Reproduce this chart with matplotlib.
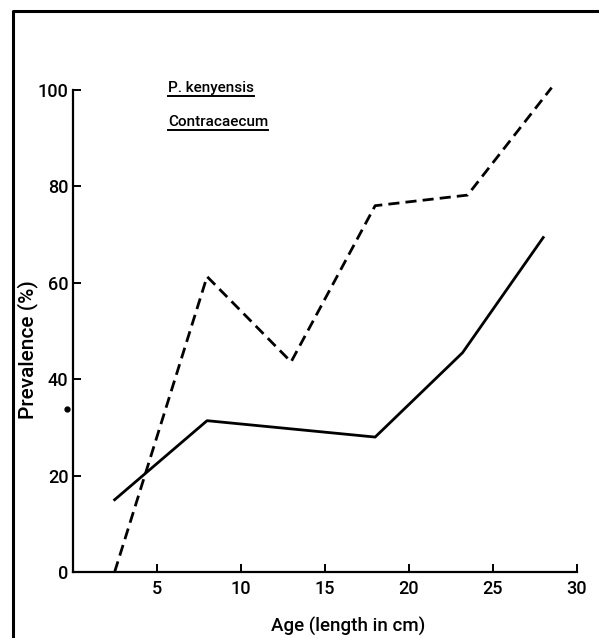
import matplotlib
matplotlib.use("Agg")
import matplotlib.pyplot as plt
from matplotlib.lines import Line2D

plt.rcParams['font.family'] = ['Roboto', 'DejaVu Sans']
plt.rcParams['font.weight'] = 'medium'

# values
kenyensis_age = [2.5, 8, 13, 18, 23.5, 28.5]
kenyensis_prev = [0, 61.3, 43.6, 76, 78.2, 100.5]
contra_age = [2.5, 8, 18, 23.2, 28]
contra_prev = [15, 31.4, 28, 45.5, 69.4]

xticks = [5, 10, 15, 20, 25, 30]
yticks = [0, 20, 40, 60, 80, 100]

fig = plt.figure(figsize=(5.99, 6.38), dpi=100)
ax = fig.add_axes([0.1212, 0.1034, 0.8418, 0.7555])

ax.plot(kenyensis_age, kenyensis_prev, color="black", lw=2.0, ls=(0, (4, 2.2)),
        clip_on=False, label="P. kenyensis")
ax.plot(contra_age, contra_prev, color="black", lw=2.0, clip_on=False,
        label="Contracaecum")

ax.set_xlim(0, 30)
ax.set_ylim(0, 100)
ax.set_xticks(xticks)
ax.set_yticks(yticks)
ax.spines["top"].set_visible(False)
ax.spines["right"].set_visible(False)
for s in ("left", "bottom"):
    ax.spines[s].set_linewidth(1.6)
ax.tick_params(direction="in", length=6, width=1.4, labelsize=13, pad=6)
ax.tick_params(axis="y", pad=3)

fig.text(348 / 599, 1 - 626 / 638, "Age (length in cm)", ha="center", va="center",
         fontsize=13.5)
fig.text(28 / 599, 1 - 350 / 638, "Prevalence (%)", ha="center", va="center",
         rotation=90, fontsize=15)

# underlined series names
names = ["P. kenyensis", "Contracaecum"]
name_y = [88, 122]
fig.canvas.draw()
r = fig.canvas.get_renderer()
for n, yy in zip(names, name_y):
    t = fig.text(168 / 599, 1 - yy / 638, n, ha="left", va="center", fontsize=11)
    bb = t.get_window_extent(r).transformed(fig.transFigure.inverted())
    fig.add_artist(Line2D([bb.x0, bb.x1], [bb.y0 - 0.002, bb.y0 - 0.002],
                          color="black", lw=1.4, transform=fig.transFigure))

# stray dot beside the y axis
ax.plot([-0.35], [33.8], "o", color="black", ms=3.5, clip_on=False)

# outer border (top and left only)
fig.add_artist(Line2D([13 / 599, 13 / 599, 1.0], [0.0, 1 - 11 / 638, 1 - 11 / 638],
                      color="black", lw=2.2, transform=fig.transFigure))

fig.savefig("out.png", dpi=100)
